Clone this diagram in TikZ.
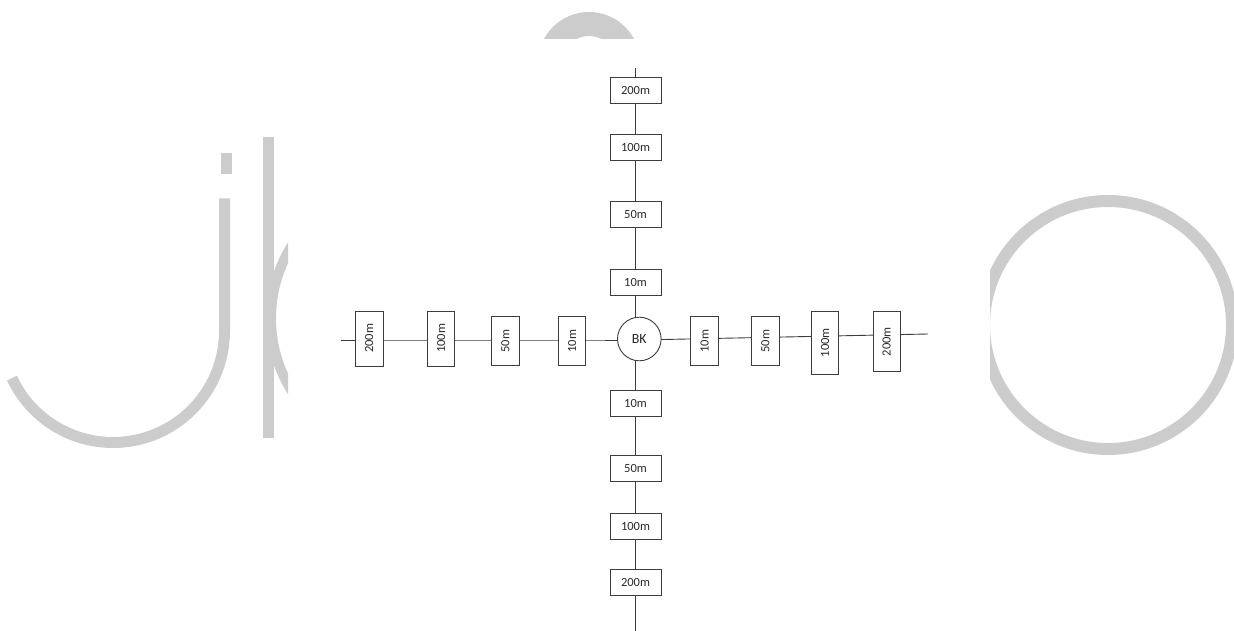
\documentclass[tikz,border=0pt]{standalone}
\usepackage{fontspec}
\setmainfont{Carlito}
\usetikzlibrary{backgrounds,calc}
\definecolor{wmgray}{HTML}{CCCCCC}
\definecolor{linec}{HTML}{3C3C3C}
\definecolor{txtc}{HTML}{2A2A2A}
\begin{document}
\begin{tikzpicture}[x=1pt,y=-1pt,
  box/.style={draw=linec, fill=white, line width=0.9pt, inner sep=0pt, text=txtc, font=\fontsize{12.5}{14}\selectfont},
  hbox/.style={box, minimum width=51pt, minimum height=26pt},
  rbox/.style={box, rotate=90, minimum height=27.5pt},
  conn/.style={draw=linec, line width=0.9pt},
  wm/.style={draw=wmgray, line width=11pt}]
\useasboundingbox (0,0) rectangle (1234,631);

% watermark (behind the diagram's white sheet)
\begin{scope}
  \clip (0,0) rectangle (288,631);
  \fill[wmgray] (220.7,153.3) rectangle (232.3,174.3);
  \draw[wm] (224.5,198.3) -- (224.5,331) arc[start angle=0, end angle=155, radius=111.5];
  \draw[wm, line width=10pt] (408,318.3) circle (137);
  \draw[wm] (268.3,137.3) -- (268.3,438.3);
\end{scope}
\begin{scope}
  \clip (0,0) rectangle (1234,39);
  \draw[wmgray, line width=24pt] (589,63) circle (39);
\end{scope}
\begin{scope}
  \clip (990,0) rectangle (1234,631);
  \draw[wmgray, line width=12pt] (1108,325) circle (124);
\end{scope}

% centre
\node[circle, draw=linec, fill=white, line width=0.9pt, minimum size=43.6pt, inner sep=0pt, text=txtc, font=\fontsize{14}{16}\selectfont] (bk) at (639.3,339) {BK};

% top
\node[hbox] (t200) at (635.5,90.7) {200m};
\node[hbox] (t100) at (635.5,147.5) {100m};
\node[hbox] (t50) at (635.5,214.2) {50m};
\node[hbox] (t10) at (635.5,282) {10m};
% bottom
\node[hbox] (b10) at (635.5,403.7) {10m};
\node[hbox] (b50) at (635.5,468) {50m};
\node[hbox] (b100) at (635.5,526) {100m};
\node[hbox] (b200) at (635.5,582.3) {200m};
% left
\node[rbox, minimum width=55pt] (l200) at (369.2,338.5) {200m};
\node[rbox, minimum width=55pt] (l100) at (441,338.5) {100m};
\node[rbox, minimum width=49pt] (l50) at (505.3,341.3) {50m};
\node[rbox, minimum width=49pt] (l10) at (572,341.3) {10m};
% right
\node[rbox, minimum width=49pt] (r10) at (704.5,341.3) {10m};
\node[rbox, minimum width=49pt] (r50) at (765.3,341.3) {50m};
\node[rbox, minimum width=62.3pt] (r100) at (825,342.8) {100m};
\node[rbox, minimum width=60pt] (r200) at (886.7,341.7) {200m};

\coordinate (topend) at (635.5,68);
\coordinate (botend) at (635.5,631);
\coordinate (leftend) at (340.7,340);
\coordinate (ly) at (0,340);
\coordinate (rightstart) at (639.3,340);
\coordinate (rightend) at (928,334);

\begin{scope}[on background layer]
  \draw[conn] (topend) -- (t200.center) -- (t100.center) -- (t50.center) -- (t10.center)
    -- (b10.center) -- (b50.center) -- (b100.center) -- (b200.center) -- (botend);
  \draw[conn] (leftend) -- (l200.center |- ly) -- (l100.center |- ly) -- (l50.center |- ly)
    -- (l10.center |- ly) -- (bk.center |- ly);
  \draw[conn] (rightstart) -- (rightend);
\end{scope}
\end{tikzpicture}
\end{document}
